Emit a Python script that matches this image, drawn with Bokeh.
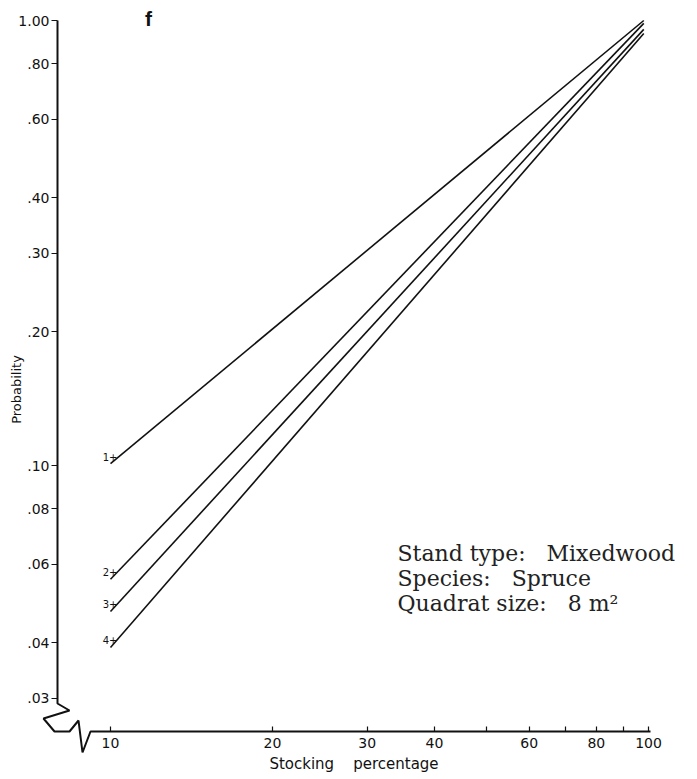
import math
from bokeh.plotting import figure
from bokeh.models import FixedTicker, Label, LabelSet, ColumnDataSource, CustomJSTickFormatter
from bokeh.embed import file_html
from bokeh.resources import INLINE
from bokeh.core.properties import value

# ---------------- data ----------------
stocking = [10, 98]                      # stocking percentage at line ends
series_names = ["1+", "2+", "3+", "4+"]
prob_1 = [0.101, 1.00]
prob_2 = [0.0555, 0.985]
prob_3 = [0.047, 0.955]
prob_4 = [0.039, 0.935]
series_probs = [prob_1, prob_2, prob_3, prob_4]

x_ticks = [10, 20, 30, 40, 50, 60, 70, 80, 90, 100]
x_tick_labels = ["10", "20", "30", "40", "", "60", "", "80", "", "100"]
y_ticks = [0.03, 0.04, 0.06, 0.08, 0.10, 0.20, 0.30, 0.40, 0.60, 0.80, 1.00]
y_tick_labels = [".03", ".04", ".06", ".08", ".10", ".20", ".30", ".40", ".60", ".80", "1.00"]

info_lines = ["Stand type:\u00a0\u00a0 Mixedwood", "Species:\u00a0\u00a0 Spruce", "Quadrat size:\u00a0\u00a0 8 m\u00b2"]

# ---------------- geometry (picture pixels) ----------------
W, H = 695, 777
X10, PXD_X = 110.0, 538.0     # x of stocking 10, pixels per decade
Y1, PXD_Y = 20.0, 445.0       # y of probability 1.0, pixels per decade

def px2x(X):
    return 10 ** (1 + (X - X10) / PXD_X)

def px2y(Y):
    return 10 ** (-(Y - Y1) / PXD_Y)

x_range = (px2x(0), px2x(W))
y_range = (px2y(H), px2y(0))

AX_X = 57     # x of y-axis line
AX_Y = 731    # y of x-axis line

p = figure(width=W, height=H, x_axis_type="log", y_axis_type="log",
           x_range=x_range, y_range=y_range,
           output_backend="svg", toolbar_location=None, min_border=0)
p.outline_line_color = None
p.grid.visible = False
p.background_fill_color = "white"
p.border_fill_color = "white"

fmt_code = """
let best = -1;
for (let i = 0; i < vals.length; i++) {
  if (Math.abs(vals[i] - tick) <= 1e-6 * Math.abs(vals[i])) { best = i; }
}
return best >= 0 ? labs[best] : '';
"""

xa = p.xaxis[0]
xa.fixed_location = px2y(AX_Y)
xa.bounds = (px2x(AX_X), px2x(650))
xa.ticker = FixedTicker(ticks=x_ticks)
xa.formatter = CustomJSTickFormatter(args=dict(vals=x_ticks, labs=x_tick_labels), code=fmt_code)
xa.axis_line_color = None
xa.major_tick_in = 5
xa.major_tick_out = 0
xa.major_tick_line_color = "#111111"
xa.major_tick_line_width = 1.2
xa.minor_tick_line_color = None
xa.major_label_standoff = 6
xa.major_label_text_font = "DejaVu Sans"
xa.major_label_text_font_size = "14px"
xa.major_label_text_color = "#111111"
xa.axis_label = "Stocking\u00a0\u00a0\u00a0 percentage"
xa.axis_label_text_font = "DejaVu Sans"
xa.axis_label_text_font_size = "15px"
xa.axis_label_text_font_style = "normal"
xa.axis_label_text_color = "#111111"
xa.axis_label_standoff = 4

ya = p.yaxis[0]
ya.fixed_location = px2x(AX_X)
ya.bounds = (px2y(758), 1.0)
ya.ticker = FixedTicker(ticks=y_ticks)
ya.formatter = CustomJSTickFormatter(args=dict(vals=y_ticks, labs=y_tick_labels), code=fmt_code)
ya.axis_line_color = None
ya.major_tick_in = 0
ya.major_tick_out = 6
ya.major_tick_line_color = "#111111"
ya.major_tick_line_width = 1.2
ya.minor_tick_line_color = None
ya.major_label_standoff = 2
ya.major_label_text_font = "DejaVu Sans"
ya.major_label_text_font_size = "14px"
ya.major_label_text_color = "#111111"
ya.axis_label = "Probability"
ya.axis_label_text_font = "DejaVu Sans"
ya.axis_label_text_font_size = "13px"
ya.axis_label_text_font_style = "normal"
ya.axis_label_text_color = "#111111"
ya.axis_label_standoff = -9

# axis lines with the hand-drawn break at the origin (decoration)
axis_path_px = [(AX_X, 20), (AX_X, 703), (69, 710), (43, 718), (54, AX_Y), (69, AX_Y),
                (78, 720), (82, 752), (90, AX_Y), (650, AX_Y)]
p.line([px2x(a) for a, b in axis_path_px], [px2y(b) for a, b in axis_path_px],
       line_color="#111111", line_width=2)

# data lines
for probs in series_probs:
    p.line(stocking, probs, line_color="#111111", line_width=1.6)

src = ColumnDataSource(dict(x=[stocking[0]] * len(series_names),
                            y=[pr[0] for pr in series_probs],
                            text=series_names))
p.add_layout(LabelSet(x="x", y="y", text="text", source=src, text_align="right",
                      text_baseline="middle", x_offset=7, y_offset=7,
                      text_font=value("DejaVu Sans"), text_font_size=value("10px"),
                      text_color="#111111"))

# panel letter
p.add_layout(Label(x=px2x(148), y=px2y(18), text="f", text_align="center",
                   text_baseline="middle", text_font="Liberation Sans",
                   text_font_size="21px", text_font_style="bold", text_color="#111111"))

# info block
info_y = [px2y(553), px2y(578), px2y(603)]
for txt, yy in zip(info_lines, info_y):
    p.add_layout(Label(x=px2x(397), y=yy, text=txt, text_align="left",
                       text_baseline="middle", text_font="DejaVu Serif",
                       text_font_size="22px", text_color="#222222"))

open("out.html", "w").write(file_html(p, INLINE))
